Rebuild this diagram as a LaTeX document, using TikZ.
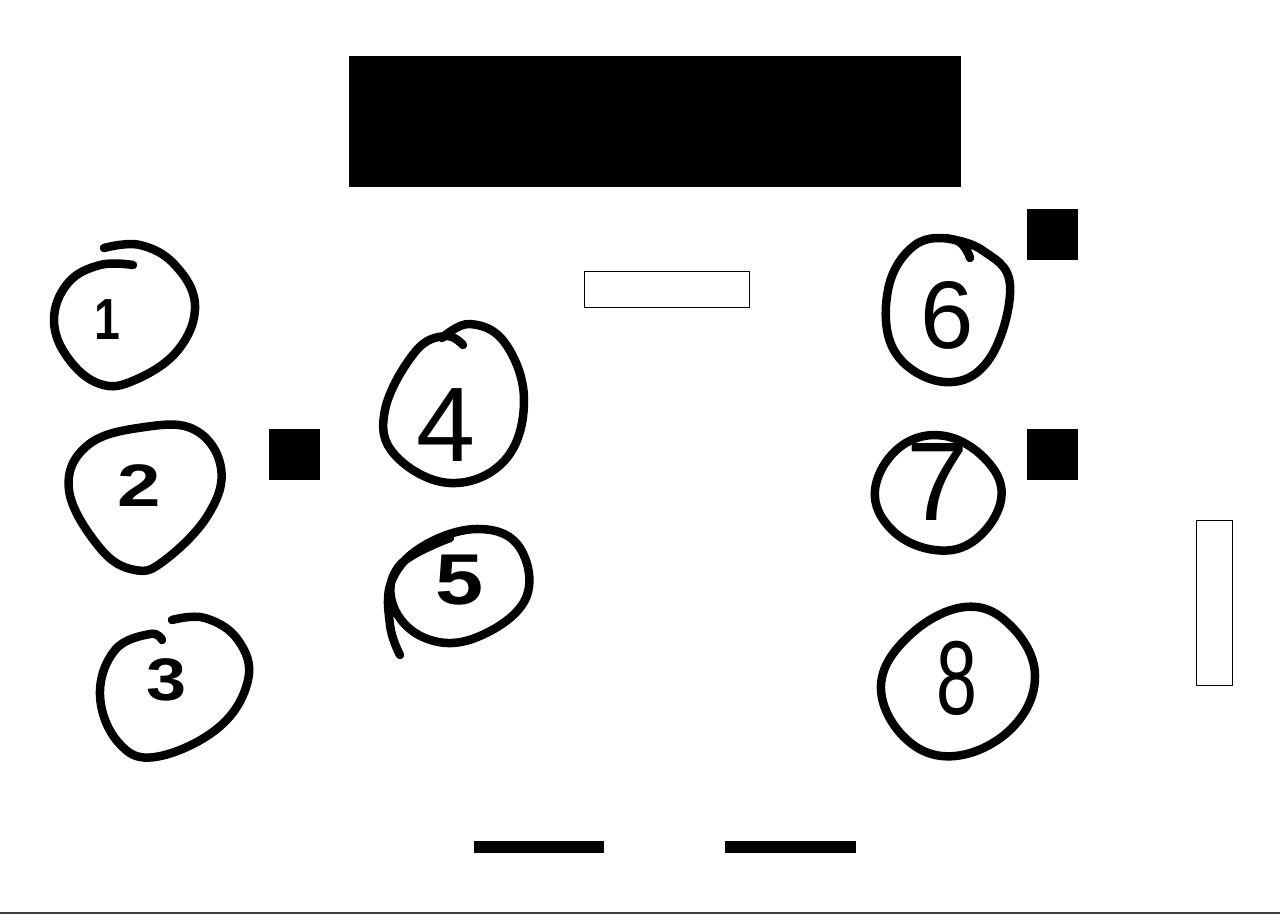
\documentclass[tikz,border=0pt]{standalone}
\usepackage{fontspec}
\setmainfont{Liberation Sans}
\newcommand{\digitsize}[1]{\fontsize{#1}{#1}\selectfont}
\tikzset{
  ring/.style={draw=black, line width=8.5pt, line cap=round, line join=round},
  digit/.style={inner sep=0pt, text=black},
  blackbox/.style={fill=black},
  openbox/.style={draw=black, fill=white, line width=1pt},
}
\begin{document}
\begin{tikzpicture}[x=1pt,y=-1pt]
        \useasboundingbox (0,0) rectangle (1280,914);

        % top block and outlined boxes
        \fill[blackbox] (348.5,55.5) rectangle (961,187);
        \draw[openbox] (584,271.5) rectangle (749,307);
        \draw[openbox] (1196,520) rectangle (1232,685);

        % small squares
        \foreach \x/\y in {269/429,1027/209,1027/429}
          \fill[blackbox] (\x,\y) rectangle ++(51,51);

        % bars at the bottom
        \foreach \x in {473.5,725}
          \fill[blackbox] (\x,841) rectangle ++(130.5,11.5);
        \fill[black!75] (0,911.5) rectangle (1280,914);

        % rings
        \draw[ring] plot[smooth, tension=0.68] coordinates {(104,248) (140,245) (175,265) (195,305) (178,350) (135,380) (100,384) (68,358) (54,320) (68,283) (100,265) (133,265)};
        \draw[ring] plot[smooth cycle, tension=0.68] coordinates {(145,427) (195,430) (221,468) (208,515) (165,560) (135,570) (100,548) (69,490) (88,445)};
        \draw[ring] plot[smooth, tension=0.68] coordinates {(172,620) (205,618) (238,640) (248,680) (218,728) (155,757) (118,742) (100,695) (115,650) (150,634) (162,640)};
        \draw[ring] plot[smooth, tension=0.68] coordinates {(463,345) (445,336) (415,352) (385,410) (395,455) (450,483) (505,460) (524,400) (505,343) (470,324) (442,338)};
        \draw[ring] plot[smooth, tension=0.68] coordinates {(400,655) (390,625) (392,580) (425,545) (480,529) (520,548) (525,600) (475,638) (425,638) (393,605) (400,565) (450,538)};
        \draw[ring] plot[smooth, tension=0.68] coordinates {(970,258) (955,240) (915,245) (888,290) (895,352) (945,382) (990,358) (1010,285) (982,250) (945,238)};
        \draw[ring] plot[smooth cycle, tension=0.68] coordinates {(875,490) (900,447) (945,436) (988,462) (1001,500) (975,540) (935,550) (892,530)};
        \draw[ring] plot[smooth cycle, tension=0.68] coordinates {(965,607) (1010,625) (1035,675) (1012,728) (955,756) (905,738) (881,685) (910,635)};

        % numbers
        \node[digit, font=\bfseries\digitsize{58}, xscale=0.8] (one) at (107,320) {1};
        \node[digit, font=\bfseries\digitsize{60}, xscale=1.3] (two) at (139,486) {2};
        \node[digit, font=\bfseries\digitsize{60}, xscale=1.2] (three) at (167,680) {3};
        \node[digit, font=\digitsize{106}] (four) at (446,425) {4};
        \node[digit, font=\bfseries\digitsize{72}, xscale=1.2] (five) at (460,580) {5};
        \node[digit, font=\digitsize{96}] (six) at (947,315) {6};
        \node[digit, font=\digitsize{112}] (seven) at (938,482) {7};
        \node[digit, font=\digitsize{105}, xscale=0.7] (eight) at (957,678) {8};
\end{tikzpicture}
\end{document}
